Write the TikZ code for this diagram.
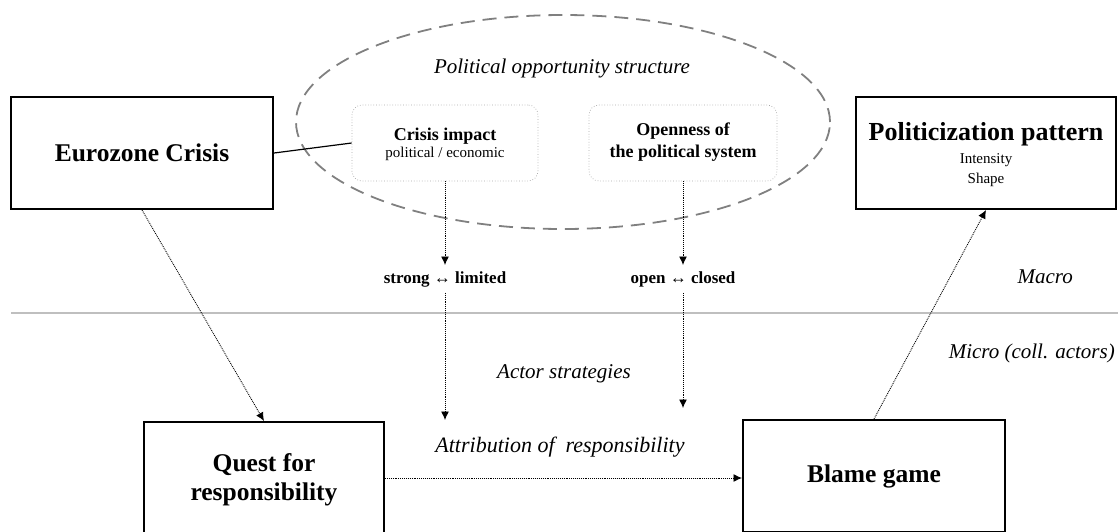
\documentclass[tikz,border=0pt]{standalone}
\usepackage{fontspec}
\setmainfont{Liberation Serif}
\usetikzlibrary{shapes.geometric,arrows.meta}
\begin{document}
\begin{tikzpicture}[x=1pt,y=-1pt,
  bigbox/.style={draw,line width=2pt,minimum width=#1,minimum height=112pt,inner sep=0pt},
  subbox/.style={draw=black!35,dotted,line width=0.7pt,rounded corners=10pt,minimum width=#1,minimum height=76pt,inner sep=0pt},
  conn/.style={densely dotted,line width=0.9pt,-{Latex[length=8.5pt,width=8pt]}},
  txt/.style={anchor=base,inner sep=0pt},
  headfont/.style={font=\fontsize{25.5}{28}\selectfont\bfseries},
  subhead/.style={font=\fontsize{18}{20}\selectfont\bfseries},
  smallfont/.style={font=\fontsize{15}{18}\selectfont},
  itfont/.style={font=\fontsize{21}{24}\selectfont\itshape},
  scalelbl/.style={anchor=base,inner sep=6pt,font=\fontsize{17}{20}\selectfont\bfseries}
]
\useasboundingbox (0,0) rectangle (1118,531);
\clip (0,0) rectangle (1118,531);

% political opportunity structure
\node[ellipse,draw=black!50,dash pattern=on 14pt off 8pt,line width=1.8pt,
      minimum width=534pt,minimum height=214pt,inner sep=0pt] (pos) at (563,122) {};
\node[txt,itfont] (postitle) at (562,73) {Political opportunity structure};

\node[subbox=186pt] (crisis) at (445,143) {};
\node[txt,subhead] (crisisA) at (445,140) {Crisis impact};
\node[txt,smallfont] (crisisB) at (445,157) {political / economic};

\node[subbox=188pt] (open) at (683,143) {};
\node[txt,subhead] (openA) at (683,135) {Openness of};
\node[txt,subhead] (openB) at (683,157) {the political system};

% macro level boxes
\node[bigbox=262pt] (euro) at (142,153) {};
\node[txt,headfont] (euroT) at (142,161) {Eurozone Crisis};

\node[bigbox=260pt] (polit) at (986,153) {};
\node[txt,font=\fontsize{26}{28}\selectfont\bfseries] (politA) at (986,140) {Politicization pattern};
\node[txt,smallfont] (politB) at (986,163) {Intensity};
\node[txt,smallfont] (politC) at (986,183) {Shape};

% micro level boxes
\node[bigbox=240pt] (quest) at (264,478) {};
\node[txt,headfont] (questA) at (264,471) {Quest for};
\node[txt,headfont] (questB) at (264,500) {responsibility};

\node[bigbox=262pt] (blame) at (874,476) {};
\node[txt,headfont] (blameT) at (874,482) {Blame game};

% level divider and labels
\draw[black!25,line width=2pt] (11,313) -- (1118,313);
\node[anchor=base east,inner sep=0pt,itfont] (macro) at (1073,283) {Macro};
\node[anchor=base east,inner sep=0pt,itfont] (micro) at (1115,358) {Micro (coll. actors)};
\node[txt,itfont] (actor) at (564,378) {Actor strategies};
\node[txt,font=\fontsize{22}{24}\selectfont\itshape] (attr) at (560,452) {Attribution of\ \ responsibility};

% scale labels
\node[scalelbl] (strongl) at (445,283) {strong ↔ limited};
\node[scalelbl] (openl) at (683,283) {open ↔ closed};
\coordinate (crisisEnd) at (445,420);
\coordinate (openEnd) at (683,408);

% connectors
\draw[line width=1.2pt] (euro.east) -- (crisis.west);
\draw[conn] (crisis.south) -- (strongl.north);
\draw[conn] (strongl.south) -- (crisisEnd);
\draw[conn] (open.south) -- (openl.north);
\draw[conn] (openl.south) -- (openEnd);
\draw[conn] (euro.south) -- (quest.north);
\draw[conn] (quest.east) -- (quest.east -| blame.west);
\draw[conn] (blame.north) -- (polit.south);
\end{tikzpicture}
\end{document}
